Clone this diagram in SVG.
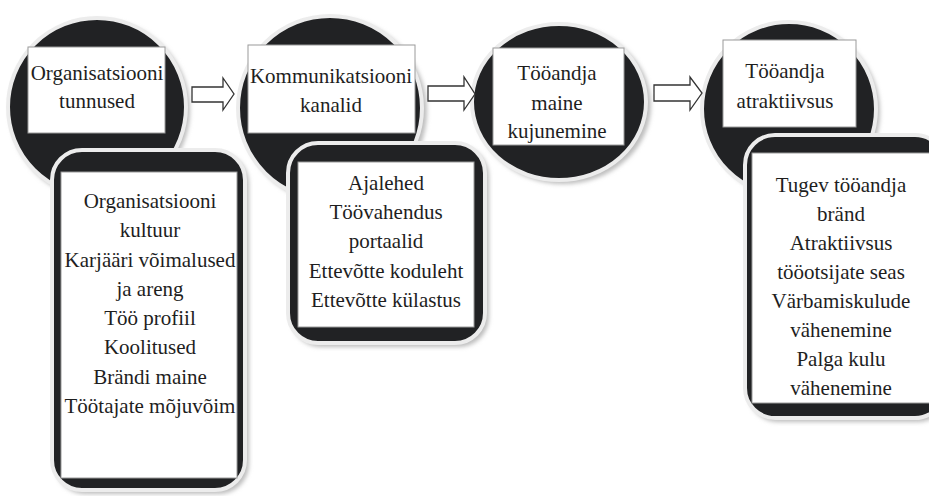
<svg xmlns="http://www.w3.org/2000/svg" width="929" height="496" viewBox="0 0 929 496">
<defs>
<filter id="sh" x="-20%" y="-20%" width="140%" height="140%">
<feGaussianBlur stdDeviation="2"/>
</filter>
</defs>
<style>
.sh{fill:#bdbdbd;filter:url(#sh)}
.blk{fill:#212224;stroke:#ececec;stroke-width:4}
.box{fill:#ffffff;stroke:#9a9a9a;stroke-width:1}
.t{font-family:'Liberation Serif','DejaVu Serif',serif;font-size:21px;fill:#1e1e1e;text-anchor:middle}
.arr{fill:#ffffff;stroke:#333333;stroke-width:1.3;stroke-linejoin:miter}
</style>
<rect width="929" height="496" fill="#ffffff"/>

<g id="node-organisatsiooni-tunnused">
<circle class="sh" cx="100" cy="110" r="90"/>
<circle class="blk" cx="97" cy="107" r="89"/>
<rect class="box" x="28" y="47" width="137" height="86"/>
<text class="t" font-family="Liberation Serif, serif" x="97" y="80">Organisatsiooni</text>
<text class="t" font-family="Liberation Serif, serif" x="97" y="108">tunnused</text>
</g>

<g id="node-kommunikatsiooni-kanalid">
<circle class="sh" cx="334" cy="111" r="93"/>
<circle class="blk" cx="330" cy="108" r="92"/>
<rect class="box" x="248" y="45" width="167" height="88"/>
<text class="t" font-family="Liberation Serif, serif" x="331" y="83">Kommunikatsiooni</text>
<text class="t" font-family="Liberation Serif, serif" x="331" y="112">kanalid</text>
</g>

<g id="node-tooandja-maine">
<ellipse class="sh" cx="563" cy="105" rx="88" ry="79"/>
<ellipse class="blk" cx="559" cy="102" rx="87" ry="78"/>
<rect class="box" x="493" y="48" width="131" height="97"/>
<text class="t" font-family="Liberation Serif, serif" x="557" y="80">Tööandja</text>
<text class="t" font-family="Liberation Serif, serif" x="557" y="110">maine</text>
<text class="t" font-family="Liberation Serif, serif" x="557" y="138">kujunemine</text>
</g>

<g id="node-tooandja-atraktiivsus">
<circle class="sh" cx="793" cy="112" r="87"/>
<circle class="blk" cx="789" cy="109" r="87"/>
<rect class="box" x="723" y="40" width="133" height="87"/>
<text class="t" font-family="Liberation Serif, serif" x="785" y="78">Tööandja</text>
<text class="t" font-family="Liberation Serif, serif" x="785" y="108">atraktiivsus</text>
</g>

<g id="node-tunnused-list" font-family="Liberation Serif, serif">
<rect class="sh" x="55" y="153" width="194" height="341" rx="30"/>
<rect class="blk" x="52" y="150" width="193" height="340" rx="30"/>
<rect class="box" x="61" y="172" width="176" height="306"/>
<text class="t" x="150" y="208">Organisatsiooni</text>
<text class="t" x="150" y="237">kultuur</text>
<text class="t" x="150" y="267">Karjääri võimalused</text>
<text class="t" x="150" y="296">ja areng</text>
<text class="t" x="150" y="325">Töö profiil</text>
<text class="t" x="150" y="354">Koolitused</text>
<text class="t" x="150" y="384">Brändi maine</text>
<text class="t" x="150" y="413">Töötajate mõjuvõim</text>
</g>

<g id="node-kanalid-list">
<rect class="sh" x="291" y="146" width="198" height="201" rx="30"/>
<rect class="blk" x="288" y="143" width="197" height="200" rx="30"/>
<rect class="box" x="298" y="162" width="176" height="165"/>
<text class="t" x="386" y="190">Ajalehed</text>
<text class="t" x="386" y="219">Töövahendus</text>
<text class="t" x="386" y="248">portaalid</text>
<text class="t" x="386" y="278">Ettevõtte koduleht</text>
<text class="t" x="386" y="307">Ettevõtte külastus</text>
</g>

<g id="node-atraktiivsus-list">
<rect class="sh" x="748" y="138" width="200" height="284" rx="30"/>
<rect class="blk" x="745" y="135" width="200" height="283" rx="30"/>
<rect class="box" x="752" y="153" width="190" height="250"/>
<text class="t" x="841" y="192">Tugev tööandja</text>
<text class="t" x="841" y="221">bränd</text>
<text class="t" x="841" y="250">Atraktiivsus</text>
<text class="t" x="841" y="279">tööotsijate seas</text>
<text class="t" x="841" y="308">Värbamiskulude</text>
<text class="t" x="841" y="337">vähenemine</text>
<text class="t" x="841" y="366">Palga kulu</text>
<text class="t" x="841" y="395">vähenemine</text>
</g>

<g id="connectors">
<polygon class="arr" points="192,87 223,87 223,78 234,94 223,110 223,102 192,102"/>
<polygon class="arr" points="428,86 464,86 464,77 475,94 464,110 464,101 428,101"/>
<polygon class="arr" points="654,85 690,85 690,77 702,93 690,110 690,101 654,101"/>
</g>
</svg>
